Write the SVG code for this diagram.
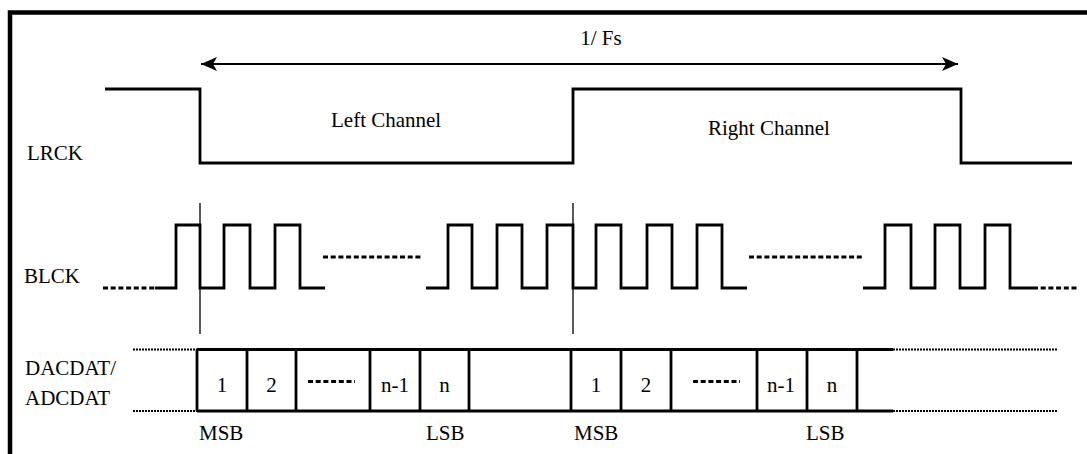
<svg xmlns="http://www.w3.org/2000/svg" width="1087" height="454" viewBox="0 0 1087 454">
<style>
text{font-family:"Liberation Serif",serif;font-size:21px;fill:#000}
.c{text-anchor:middle}
.w{fill:none;stroke:#000;stroke-width:2.8;stroke-linejoin:miter}
.dot{fill:none;stroke:#000;stroke-width:3;stroke-dasharray:5 2.7}
.bd{fill:none;stroke:#000;stroke-width:2;stroke-dasharray:2 1}
.thin{stroke:#000;stroke-width:1.3}
</style>
<defs>
<marker id="ah" viewBox="0 0 16 14" refX="16" refY="7" markerWidth="16" markerHeight="14" markerUnits="userSpaceOnUse" orient="auto-start-reverse">
<path d="M0,0 L16,7 L0,14 L4,7 Z" fill="#000"/>
</marker>
</defs>
<rect width="1087" height="454" fill="#fff"/>
<g id="frame"><path d="M10,454 V12.5 H1087" fill="none" stroke="#000" stroke-width="4.5"/></g>

<g id="period">
<line x1="201" y1="64" x2="958" y2="64" stroke="#000" stroke-width="2.2" marker-start="url(#ah)" marker-end="url(#ah)"/>
<text class="c" x="601" y="45">1/ Fs</text>
</g>

<g id="lrck">
<text x="27" y="160">LRCK</text>
<path class="w" d="M105,89 H200 V163 H573 V89 H961 V163 H1072"/>
<text x="331" y="127">Left Channel</text>
<text x="708" y="135">Right Channel</text>
</g>

<g id="blck">
<text x="24" y="283">BLCK</text>
<line class="dot" x1="103" y1="288" x2="155" y2="288"/>
<path class="w" d="M155,288 H176 V225 H200 V288 H224 V225 H250 V288 H275 V225 H300 V288 H325"/>
<line class="dot" x1="323" y1="257" x2="423" y2="257"/>
<path class="w" d="M426,288 H448 V225 H472 V288 H497 V225 H522 V288 H547 V225 H573 V288 H596 V225 H621 V288 H647 V225 H672 V288 H697 V225 H722 V288 H747"/>
<line class="dot" x1="749" y1="257" x2="863" y2="257"/>
<path class="w" d="M863,288 H885 V225 H911 V288 H935 V225 H960 V288 H985 V225 H1010 V288 H1033"/>
<line class="dot" x1="1033" y1="288" x2="1078" y2="288"/>
</g>

<g id="markers">
<line class="thin" x1="200" y1="203" x2="200" y2="334"/>
<line class="thin" x1="573" y1="203" x2="573" y2="334"/>
</g>

<g id="data">
<text x="25" y="375">DACDAT/</text>
<text x="25" y="405">ADCDAT</text>
<line class="bd" x1="133" y1="349.5" x2="197" y2="349.5"/>
<line class="bd" x1="133" y1="411" x2="197" y2="411"/>
<path class="w" d="M197,349.5 H893 M197,411 H893 M197,349.5 V411 M247,349.5 V411 M296,349.5 V411 M370,349.5 V411 M420,349.5 V411 M469,349.5 V411 M571,349.5 V411 M621,349.5 V411 M671,349.5 V411 M757,349.5 V411 M807,349.5 V411 M857,349.5 V411"/>
<line class="bd" x1="893" y1="349.5" x2="1057" y2="349.5"/>
<line class="bd" x1="893" y1="411" x2="1057" y2="411"/>
<text class="c" x="222" y="392">1</text>
<text class="c" x="271.5" y="392">2</text>
<line class="dot" x1="308" y1="381.5" x2="355" y2="381.5" stroke-dasharray="5 3"/>
<text class="c" x="395" y="392">n-1</text>
<text class="c" x="444.5" y="392">n</text>
<text class="c" x="596" y="392">1</text>
<text class="c" x="646" y="392">2</text>
<line class="dot" x1="693" y1="381.5" x2="740" y2="381.5" stroke-dasharray="5 3"/>
<text class="c" x="781" y="392">n-1</text>
<text class="c" x="832" y="392">n</text>
<text x="199" y="440">MSB</text>
<text x="426" y="440">LSB</text>
<text x="574" y="440">MSB</text>
<text x="806" y="440">LSB</text>
</g>
</svg>
